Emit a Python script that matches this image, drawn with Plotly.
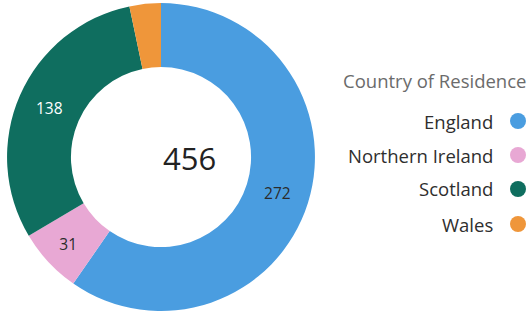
import plotly.graph_objects as go

countries = ["England", "Northern Ireland", "Scotland", "Wales"]
counts = [272, 31, 138, 15]
colors = ["#4A9DE0", "#E8A8D4", "#0F6E5F", "#EF963A"]
text_colors = ["#2b2b2b", "#2b2b2b", "#ffffff", "#2b2b2b"]
shown_labels = ["%{value}", "%{value}", "%{value}", ""]
legend_title = "Country of Residence"
total_label = str(sum(counts))

W, H = 528, 311
FONT = "Open Sans"
fig = go.Figure()
fig.add_trace(go.Pie(
    labels=countries, values=counts, hole=0.585, sort=False,
    direction="clockwise", rotation=0,
    marker=dict(colors=colors, line=dict(width=0)),
    texttemplate=shown_labels, textposition="inside",
    insidetextorientation="horizontal",
    textfont=dict(family=FONT, size=15.5, color=text_colors),
    domain=dict(x=[0.0, 322 / W], y=[0.0, 0.99]),
    showlegend=False, hoverinfo="label+value",
))

annotations = [
    dict(text=total_label, x=161 / W, y=(H - 158) / H, xref="paper", yref="paper",
         showarrow=False, font=dict(family=FONT, size=31, color="#222")),
    dict(text=legend_title, x=528 / W, y=(H - 80) / H, xref="paper", yref="paper",
         xanchor="right", yanchor="middle", showarrow=False,
         font=dict(family=FONT, size=18.5, color="#6b6b6b")),
]
shapes = []
ys = [121, 155, 189, 224]
for name, col, yp in zip(countries, colors, ys):
    annotations.append(dict(text=name, x=495 / W, y=(H - yp) / H, xref="paper", yref="paper",
                            xanchor="right", yanchor="middle", showarrow=False,
                            font=dict(family=FONT, size=18.5, color="#2e2e2e")))
    cx, cy, r = 518, yp, 8
    shapes.append(dict(type="circle", xref="paper", yref="paper",
                       x0=(cx - r) / W, x1=(cx + r) / W,
                       y0=(H - cy - r) / H, y1=(H - cy + r) / H,
                       fillcolor=col, line=dict(width=0)))

fig.update_layout(width=W, height=H, margin=dict(l=0, r=0, t=0, b=0),
                  paper_bgcolor="white", plot_bgcolor="white",
                  annotations=annotations, shapes=shapes)
fig.write_html("out.html", config={"displayModeBar": False},
               post_script="document.body.style.margin='0';document.body.style.overflow='hidden';")
